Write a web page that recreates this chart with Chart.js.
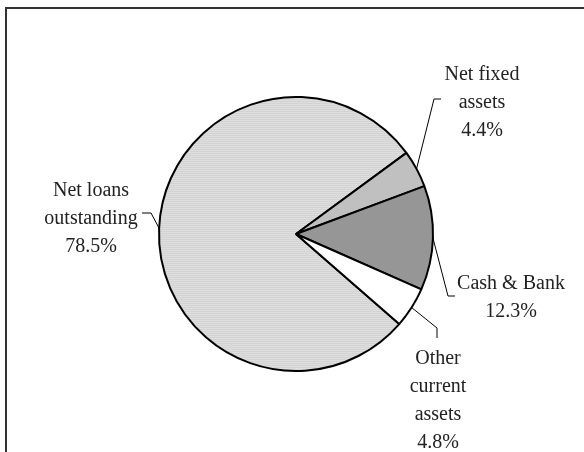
<!DOCTYPE html>
<html>
<head>
<meta charset="utf-8">
<title>Balance sheet composition</title>
<script src="https://cdn.jsdelivr.net/npm/chart.js@4/dist/chart.umd.min.js"></script>
<style>
  html, body { margin: 0; padding: 0; background: #fff; }
  canvas { display: block; }
</style>
</head>
<body>
<canvas id="AssetPieChart" width="584" height="452"></canvas>
<script>
// asset shares, in percent
const categories = ['Net loans outstanding', 'Net fixed assets', 'Cash & Bank', 'Other current assets'];
const shares = [78.5, 4.4, 12.3, 4.8];
const labelLines = [['Net loans', 'outstanding'], ['Net fixed', 'assets'], ['Cash & Bank'], ['Other', 'current', 'assets']];

document.addEventListener('DOMContentLoaded', function() {
    const ctx = document.getElementById('AssetPieChart').getContext('2d');

    // fine horizontal hatch for the big slice
    function stripePattern() {
        const c = document.createElement('canvas');
        c.width = 4; c.height = 2;
        const p = c.getContext('2d');
        p.fillStyle = '#dedede';
        p.fillRect(0, 0, 4, 2);
        p.fillStyle = '#d3d3d3';
        p.fillRect(0, 1, 4, 1);
        return ctx.createPattern(c, 'repeat');
    }

    // where each label sits and how its leader line bends
    const labelPos = [
        { x: 91,  y: 191, elbow: [151, 213], end: [142, 213] },
        { x: 482, y: 75,  elbow: [434, 99],  end: [441, 99] },
        { x: 511, y: 284, elbow: [448, 296], end: [455, 296] },
        { x: 438, y: 359, elbow: [437, 328], end: [437, 338] }
    ];

    const frame = {
        id: 'frame',
        beforeDraw(chart) {
            const c = chart.ctx;
            c.save();
            c.strokeStyle = '#333';
            c.lineWidth = 2;
            c.beginPath();
            c.moveTo(6, 452);
            c.lineTo(6, 8);
            c.lineTo(584, 8);
            c.stroke();
            c.restore();
        }
    };

    const sliceLabels = {
        id: 'sliceLabels',
        afterDatasetsDraw(chart) {
            const c = chart.ctx;
            const arcs = chart.getDatasetMeta(0).data;
            c.save();
            c.strokeStyle = '#000';
            c.lineWidth = 1;
            c.fillStyle = '#222';
            c.font = '20px "Liberation Serif", "DejaVu Serif", serif';
            c.textAlign = 'center';
            c.textBaseline = 'middle';
            arcs.forEach(function(arc, i) {
                const a = (arc.startAngle + arc.endAngle) / 2;
                const sx = arc.x + Math.cos(a) * arc.outerRadius;
                const sy = arc.y + Math.sin(a) * arc.outerRadius;
                const pos = labelPos[i];
                c.beginPath();
                c.moveTo(sx, sy);
                c.lineTo(pos.elbow[0], pos.elbow[1]);
                c.lineTo(pos.end[0], pos.end[1]);
                c.stroke();
                const lines = labelLines[i].concat([shares[i].toFixed(1) + '%']);
                lines.forEach(function(t, k) {
                    c.fillText(t, pos.x, pos.y + k * 28);
                });
            });
            c.restore();
        }
    };

    new Chart(ctx, {
        type: 'pie',
        data: {
            labels: categories,
            datasets: [{
                data: shares,
                backgroundColor: [stripePattern(), '#c0c0c0', '#969696', '#ffffff'],
                borderColor: '#000',
                borderWidth: 2
            }]
        },
        options: {
            responsive: false,
            animation: false,
            rotation: 131.1,
            radius: 137,
            layout: { padding: { left: 159, right: 151, top: 97, bottom: 81 } },
            plugins: {
                legend: { display: false },
                tooltip: { enabled: false }
            }
        },
        plugins: [frame, sliceLabels]
    });
});
</script>
</body>
</html>
